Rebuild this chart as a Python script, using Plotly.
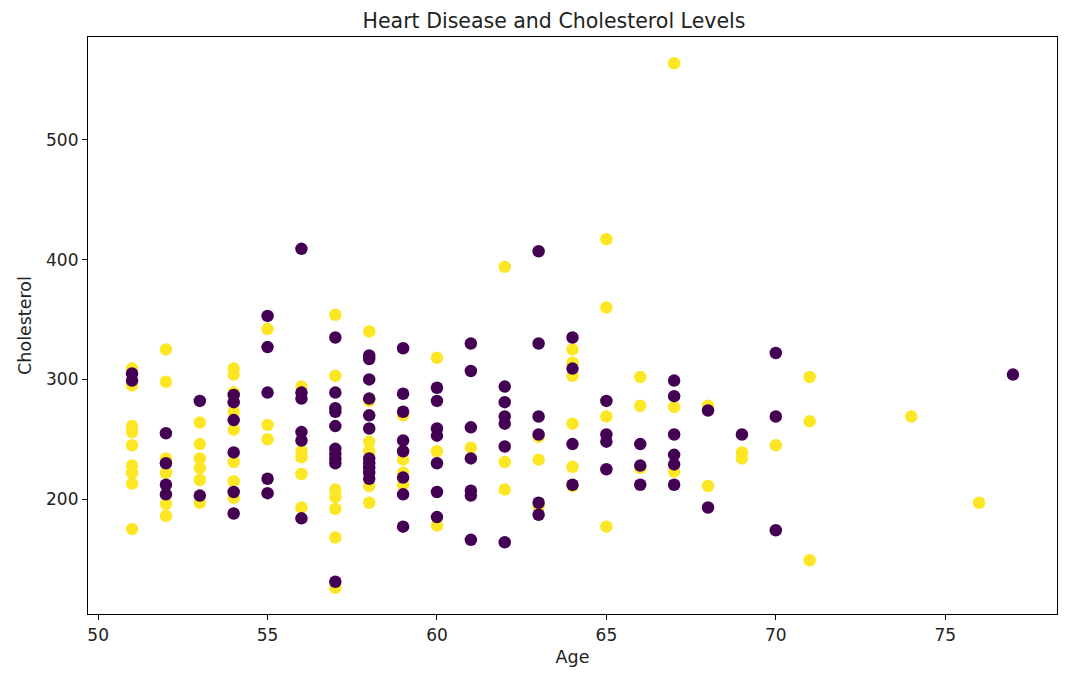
import plotly.graph_objects as go

# Class 1 (yellow) points: age -> cholesterol values
yellow_by_age = {
    51: [309, 295, 261, 256, 245, 228, 222, 213, 175],
    52: [325, 298, 234, 222, 196, 186],
    53: [264, 246, 234, 226, 216, 197],
    54: [309, 304, 289, 273, 258, 231, 215, 201],
    55: [342, 262, 250],
    56: [294, 240, 235, 221, 193],
    57: [354, 303, 208, 202, 192, 168, 126],
    58: [340, 282, 248, 240, 211, 197],
    59: [270, 233, 222, 212],
    60: [318, 240, 178],
    61: [243],
    62: [394, 231, 208],
    63: [252, 233, 194],
    64: [325, 314, 303, 263, 227, 211],
    65: [417, 360, 269, 177],
    66: [302, 278, 226],
    67: [564, 277, 223],
    68: [278, 211],
    69: [239, 234],
    70: [245],
    71: [302, 265, 149],
    74: [269],
    76: [197],
}

# Class 0 (purple) points
purple_by_age = {
    51: [305, 299],
    52: [255, 230, 212, 204],
    53: [282, 203],
    54: [287, 281, 266, 239, 206, 188],
    55: [353, 327, 289, 217, 205],
    56: [409, 289, 284, 256, 249, 184],
    57: [335, 289, 276, 273, 261, 242, 238, 234, 230, 131],
    58: [320, 317, 300, 284, 270, 259, 234, 230, 226, 222, 217],
    59: [326, 288, 273, 249, 240, 218, 204, 177],
    60: [293, 282, 259, 253, 230, 206, 185],
    61: [330, 307, 260, 234, 207, 203, 166],
    62: [294, 281, 269, 263, 244, 164],
    63: [407, 330, 269, 254, 197, 187],
    64: [335, 309, 246, 212],
    65: [282, 254, 248, 225],
    66: [246, 228, 212],
    67: [299, 286, 254, 237, 229, 212],
    68: [274, 193],
    69: [254],
    70: [322, 269, 174],
    77: [304],
}

x_ticks = [50, 55, 60, 65, 70, 75]
y_ticks = [200, 300, 400, 500]

yellow_age, yellow_chol = [], []
for a, vals in yellow_by_age.items():
    for v in vals:
        yellow_age.append(a)
        yellow_chol.append(v)
purple_age, purple_chol = [], []
for a, vals in purple_by_age.items():
    for v in vals:
        purple_age.append(a)
        purple_chol.append(v)

fig = go.Figure()
fig.add_trace(go.Scatter(x=yellow_age, y=yellow_chol, mode="markers",
                         marker=dict(color="#fde725", size=12.5, line=dict(width=0)),
                         showlegend=False))
fig.add_trace(go.Scatter(x=purple_age, y=purple_chol, mode="markers",
                         marker=dict(color="#440154", size=12.5, line=dict(width=0)),
                         showlegend=False))

all_x = yellow_age + purple_age
all_y = yellow_chol + purple_chol
xr = max(all_x) - min(all_x)
yr = max(all_y) - min(all_y)

axis_common = dict(showline=True, linecolor="black", linewidth=1.2, mirror=True,
                   ticks="outside", ticklen=5, tickcolor="black", showgrid=False,
                   zeroline=False, tickfont=dict(size=17, color="#222222"))

fig.update_layout(
    width=1092, height=682,
    margin=dict(l=80, r=43, t=29, b=76),
    paper_bgcolor="white", plot_bgcolor="white",
    font=dict(family="DejaVu Sans", color="#222222"),
    title=dict(text="Heart Disease and Cholesterol Levels", x=0.5, xanchor="center",
               y=1 - 13 / 682, yanchor="middle",
               font=dict(size=20.5, color="#222222")),
    xaxis=dict(range=[min(all_x) - 0.05 * xr, max(all_x) + 0.05 * xr], tickvals=x_ticks,
               title=dict(text="Age", font=dict(size=17.5), standoff=7), **axis_common),
    yaxis=dict(range=[min(all_y) - 0.05 * yr, max(all_y) + 0.05 * yr], tickvals=y_ticks,
               title=dict(text="Cholesterol", font=dict(size=17.5), standoff=9), **axis_common),
)

fig.write_html("out.html")
